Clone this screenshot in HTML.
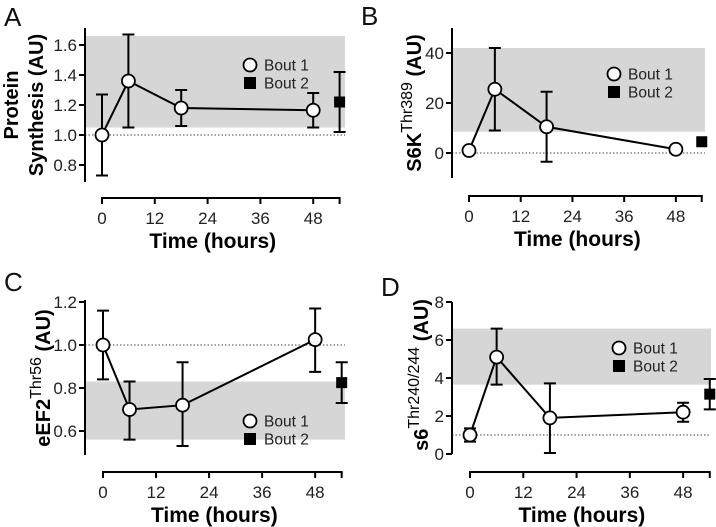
<!DOCTYPE html>
<html><head><meta charset="utf-8"><style>
html,body{margin:0;padding:0;background:#fff;}
svg{display:block;font-family:"Liberation Sans",sans-serif;}
</style></head><body>
<svg id="fig" width="716" height="527" viewBox="0 0 716 527" xmlns="http://www.w3.org/2000/svg"></svg>
<script>
// ---- data ----
const hoursBout1 = [0, 6, 18, 48];
const hourBout2 = 54;
const xTicks = [0, 12, 24, 36, 48];

const aMean = [1.0, 1.36, 1.18, 1.165];
const aLo = [0.73, 1.05, 1.06, 1.05];
const aHi = [1.27, 1.67, 1.30, 1.28];
const aBout2 = [1.22, 1.02, 1.42];
const aBand = [1.05, 1.66];
const aTicks = ["0.8", "1.0", "1.2", "1.4", "1.6"];

const bMean = [1, 25.5, 10.5, 1.5];
const bLo = [1, 9, -3.5, 1.5];
const bHi = [1, 42, 24.5, 1.5];
const bBout2 = [4.5, 4.5, 4.5];
const bBand = [8.5, 42];
const bTicks = ["0", "20", "40"];

const cMean = [1.0, 0.70, 0.72, 1.025];
const cLo = [0.84, 0.56, 0.53, 0.875];
const cHi = [1.16, 0.83, 0.92, 1.17];
const cBout2 = [0.825, 0.73, 0.92];
const cBand = [0.56, 0.83];
const cTicks = ["0.6", "0.8", "1.0", "1.2"];

const dMean = [1.0, 5.1, 1.9, 2.2];
const dLo = [0.65, 3.65, 0.05, 1.7];
const dHi = [1.35, 6.6, 3.72, 2.7];
const dBout2 = [3.15, 2.35, 3.95];
const dBand = [3.65, 6.6];
const dTicks = ["0", "2", "4", "6", "8"];

const NS = "http://www.w3.org/2000/svg";
const svg = document.getElementById("fig");
function mk(tag, attrs, parent, text) {
  const e = document.createElementNS(NS, tag);
  for (const k in attrs) e.setAttribute(k, attrs[k]);
  if (text !== undefined) e.textContent = text;
  (parent || svg).appendChild(e);
  return e;
}

function panel(cfg, mean, lo, hi, b2, band, ticks, baseline) {
  const g = mk("g", {});
  
  
  const ys = v => cfg.y0 - (v - cfg.v0) * cfg.ky;
  const xs = h => cfg.x0 + h * cfg.kx;
  const bandEl = mk("rect", {x: cfg.ax, y: ys(band[1]), width: cfg.bandR - cfg.ax, height: ys(band[0]) - ys(band[1]), fill: "#d6d6d6"}, g);
  
  
  const dl = mk("line", {x1: cfg.ax, x2: cfg.bandR, y1: ys(baseline), y2: ys(baseline), stroke: "#444", "stroke-width": 1, "stroke-dasharray": "1.5,2"}, g);
  
  
  const ya = mk("line", {x1: cfg.ax, x2: cfg.ax, y1: cfg.yTop, y2: cfg.yBot, stroke: "#000", "stroke-width": 2}, g);
  
  
  ticks.forEach(t => {
    const v = parseFloat(t);
    mk("line", {x1: cfg.ax - 6, x2: cfg.ax, y1: ys(v), y2: ys(v), stroke: "#000", "stroke-width": 2}, g);
    const tl = mk("text", {x: cfg.ax - 8, y: ys(v) + 6, "text-anchor": "end", "font-size": 17, fill: "#222"}, g, t);
    
    
  });
  const xa = mk("line", {x1: xs(0) - 1, x2: xs(hourBout2) + 1, y1: cfg.xy, y2: cfg.xy, stroke: "#000", "stroke-width": 2}, g);
  
  
  xTicks.concat([hourBout2]).forEach(h => {
    mk("line", {x1: xs(h), x2: xs(h), y1: cfg.xy, y2: cfg.xy + 6, stroke: "#000", "stroke-width": 2}, g);
  });
  xTicks.forEach(h => {
    const tl = mk("text", {x: xs(h), y: cfg.xy + 26, "text-anchor": "middle", "font-size": 17, fill: "#222"}, g, String(h));
    
    
  });
  const xt = mk("text", {x: (xs(0) + xs(hourBout2)) / 2 - 8, y: cfg.xy + 50, "text-anchor": "middle", "font-size": 21, "font-weight": "bold"}, g, "Time (hours)");
  
  
  const yt = mk("text", {transform: `translate(${cfg.ytx},${cfg.yty}) rotate(-90)`, "text-anchor": "middle", "font-size": 20, "font-weight": "bold"}, g);
  
  
  cfg.ytitle(yt);
  const pts = hoursBout1.map((h, i) => xs(h) + "," + ys(mean[i])).join(" ");
  const pl = mk("polyline", {points: pts, fill: "none", stroke: "#000", "stroke-width": 2}, g);
  
  
  function err(x, l, h) {
    if (Math.abs(ys(l) - ys(h)) < 1) return;
    const e = mk("path", {d: `M${x},${ys(l)}V${ys(h)}M${x-6},${ys(l)}H${x+6}M${x-6},${ys(h)}H${x+6}`, stroke: "#000", "stroke-width": 2, fill: "none"}, g);
    
    
  }
  hoursBout1.forEach((h, i) => err(xs(h), lo[i], hi[i]));
  err(xs(hourBout2), b2[1], b2[2]);
  hoursBout1.forEach((h, i) => {
    const c = mk("circle", {cx: xs(h), cy: ys(mean[i]), r: 6.5, fill: "#fff", stroke: "#000", "stroke-width": 1.8}, g);
    
    
  });
  const sq = mk("rect", {x: xs(hourBout2) - 5.5, y: ys(b2[0]) - 5.5, width: 11, height: 11, fill: "#000"}, g);
  
  
  const lg = mk("g", {}, g);
  
  
  const l1 = mk("circle", {cx: cfg.lx, cy: cfg.ly, r: 6.5, fill: "#fff", stroke: "#000", "stroke-width": 1.8}, lg);
  
  
  mk("text", {x: cfg.lx + 14, y: cfg.ly + 5.5, "font-size": 15.5, fill: "#222"}, lg, "Bout 1");
  const l2 = mk("rect", {x: cfg.lx - 6, y: cfg.ly + 12, width: 12, height: 12, fill: "#000"}, lg);
  
  
  mk("text", {x: cfg.lx + 14, y: cfg.ly + 23.5, "font-size": 15.5, fill: "#222"}, lg, "Bout 2");
  const pl2 = mk("text", {x: cfg.px, y: cfg.py, "font-size": 26, fill: "#111"}, g, cfg.id);
  
  
}

function twoLine(el) {
  mk("tspan", {x: 0, dy: -12}, el, "Protein");
  mk("tspan", {x: 0, dy: 25}, el, "Synthesis (AU)");
}
function supTitle(base, sup) {
  return el => {
    mk("tspan", {}, el, base);
    mk("tspan", {dy: -9, "font-size": 16, "font-weight": "normal"}, el, sup);
    mk("tspan", {dy: 9}, el, " (AU)");
  };
}

panel({id: "A", ax: 85, y0: 135, v0: 1, ky: 150, yTop: 28, yBot: 182, xy: 198, x0: 102, kx: 4.4, bandR: 345,
  ytx: 30, yty: 105, ytitle: twoLine, lx: 250, ly: 65, px: 4, py: 26}, aMean, aLo, aHi, aBout2, aBand, aTicks, 1);
panel({id: "B", ax: 452, y0: 153, v0: 0, ky: 2.5, yTop: 28, yBot: 178, xy: 196, x0: 469, kx: 4.31, bandR: 705,
  ytx: 421, yty: 103, ytitle: supTitle("S6K", "Thr389"), lx: 614, ly: 74, px: 361, py: 25}, bMean, bLo, bHi, bBout2, bBand, bTicks, 0);
panel({id: "C", ax: 85, y0: 345, v0: 1, ky: 215, yTop: 300, yBot: 455, xy: 472, x0: 103, kx: 4.42, bandR: 345,
  ytx: 50, yty: 378, ytitle: supTitle("eEF2", "Thr56"), lx: 250, ly: 421, px: 4, py: 291}, cMean, cLo, cHi, cBout2, cBand, cTicks, 1);
panel({id: "D", ax: 452, y0: 454, v0: 0, ky: 19, yTop: 302, yBot: 454, xy: 472, x0: 470, kx: 4.44, bandR: 711,
  ytx: 428, yty: 375, ytitle: supTitle("s6", "Thr240/244"), lx: 619, ly: 348, px: 381, py: 296}, dMean, dLo, dHi, dBout2, dBand, dTicks, 1);
</script>
</body></html>
